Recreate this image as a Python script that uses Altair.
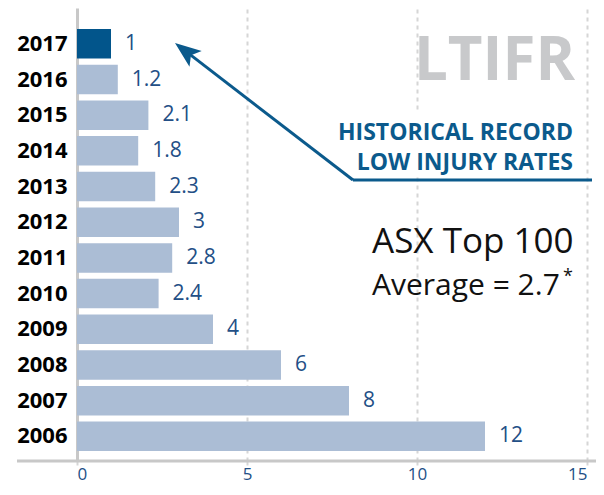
import altair as alt
import pandas as pd

# ---- data ----
years = ["2017", "2016", "2015", "2014", "2013", "2012",
         "2011", "2010", "2009", "2008", "2007", "2006"]
ltifr = [1, 1.2, 2.1, 1.8, 2.3, 3, 2.8, 2.4, 4, 6, 8, 12]
highlight_years = ["2017"]
x_ticks = [0, 5, 10, 15]

title_text = "LTIFR"
callout_lines = ["HISTORICAL RECORD", "LOW INJURY RATES"]
bench_line1 = "ASX Top 100"
bench_line2 = "Average = 2.7"
bench_note = "*"

# ---- styles ----
FONT = "Open Sans"
DARK = "#02558b"
LIGHT = "#abbdd5"
VALUE_BLUE = "#234f86"
CALLOUT_BLUE = "#0b5a8c"
AXIS_GRAY = "#c8c8c8"

df = pd.DataFrame({
    "year": years,
    "ltifr": ltifr,
    "latest": [y in highlight_years for y in years],
})

y_enc = alt.Y(
    "year:N", sort=years, title=None,
    scale=alt.Scale(paddingInner=0.173, paddingOuter=0.434, align=0.68),
    axis=alt.Axis(domainColor=AXIS_GRAY, domainWidth=3, ticks=False,
                  labelPadding=10, labelFont=FONT, labelFontSize=22,
                  labelFontWeight="bold", labelColor="#000000"),
)
x_enc = alt.X(
    "ltifr:Q", title=None,
    scale=alt.Scale(domain=[0, 15], nice=False),
    axis=alt.Axis(values=x_ticks, domain=False, grid=True, gridDash=[4, 4],
                  gridColor="#d6d6d6", gridWidth=2, tickColor="#d6d6d6",
                  tickSize=4, tickWidth=2, labelPadding=1, labelFont=FONT,
                  labelFontSize=17, labelColor=VALUE_BLUE, format="d"),
)

base = alt.Chart(df)
bars = base.mark_bar().encode(
    x=x_enc, y=y_enc,
    color=alt.condition(alt.datum.latest, alt.value(DARK), alt.value(LIGHT)),
)
values = base.mark_text(align="left", baseline="middle", dx=14, font=FONT,
                        fontSize=21, fontWeight=500, color=VALUE_BLUE).encode(
    x="ltifr:Q", y=alt.Y("year:N", sort=years),
    text=alt.Text("ltifr:Q", format="~g"),
)

one = pd.DataFrame({"k": [0]})

# white box behind the callout text (hides gridline)
cover = alt.Chart(one).mark_rect(color="white").encode(
    x=alt.value(261), x2=alt.value(503), y=alt.value(104), y2=alt.value(168))

# x axis baseline
x_line = alt.Chart(one).mark_rule(color=AXIS_GRAY, strokeWidth=3).encode(
    x=alt.value(-60), x2=alt.value(519), y=alt.value(453))

# callout arrow
diag = alt.Chart(one).mark_rule(color=CALLOUT_BLUE, strokeWidth=3).encode(
    x=alt.value(276), y=alt.value(172), x2=alt.value(108.3), y2=alt.value(42.9))
horiz = alt.Chart(one).mark_rule(color=CALLOUT_BLUE, strokeWidth=3).encode(
    x=alt.value(276), x2=alt.value(515), y=alt.value(172))
head = alt.Chart(one).mark_point(
    shape="M0,-1L0.77,1L0,0.55L-0.77,1Z", filled=True, opacity=1,
    color=CALLOUT_BLUE, size=676, angle=307.6, strokeWidth=0).encode(
    x=alt.value(108.3), y=alt.value(42.9))


def label(text, x, y, size, color, weight="normal", align="left"):
    return alt.Chart(pd.DataFrame({"t": [text]})).mark_text(
        align=align, baseline="alphabetic", font=FONT, fontSize=size,
        fontWeight=weight, color=color).encode(
        x=alt.value(x), y=alt.value(y), text="t:N")


texts = [
    label(title_text, 498, 72, 60, "#c8c9cb", "bold", "right"),
    label(callout_lines[0], 496, 132, 23, CALLOUT_BLUE, "bold", "right"),
    label(callout_lines[1], 496, 162, 23, CALLOUT_BLUE, "bold", "right"),
    label(bench_line1, 295, 245, 35, "#111111"),
    label(bench_line2, 295, 287, 30, "#111111"),
    label(bench_note, 486, 274, 18, "#111111"),
]

chart = alt.layer(bars, values, cover, x_line, diag, horiz, head, *texts).properties(
    width=510, height=453,
    autosize=alt.AutoSizeParams(type="none"),
    padding={"left": 69, "top": 0, "right": 9, "bottom": 26},
).configure_view(stroke=None)

chart.save("out.html", embed_options={"renderer": "svg", "actions": False})
